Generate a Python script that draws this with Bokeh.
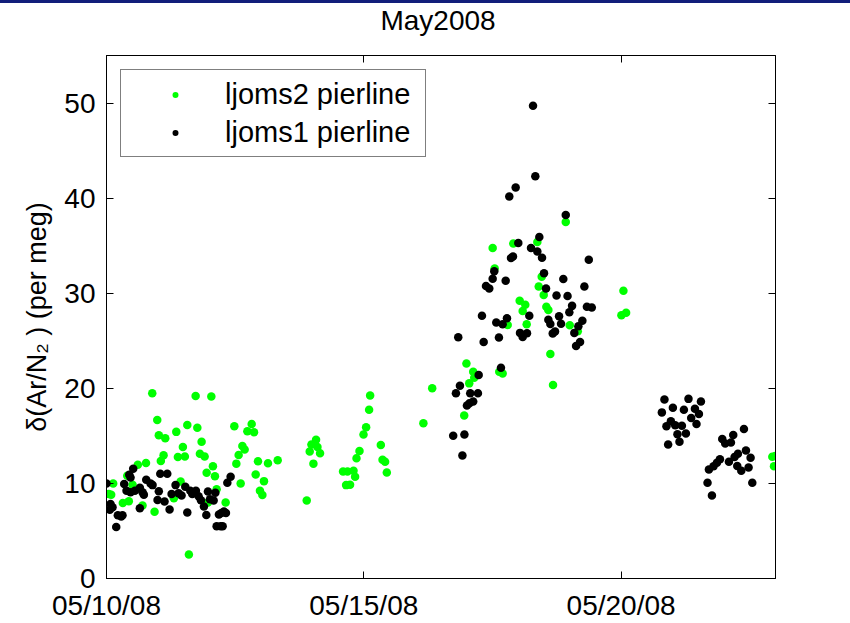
from bokeh.plotting import figure
from bokeh.models import (Range1d, FixedTicker, LinearAxis, Legend, LegendItem,
                          CustomJSTickFormatter, Div, ColumnDataSource)
from bokeh.layouts import column
from bokeh.embed import file_html
from bokeh.resources import INLINE

# Sample times are fractional day-of-month in May 2008; values are delta(Ar/N2) in per meg.
ljoms2_day = [
    10.045, 10.130, 10.091, 10.317, 10.434, 10.403, 10.506, 10.609, 10.700, 10.768,
    10.889, 10.934, 10.986, 11.017, 11.056, 11.109, 11.142, 11.309, 11.356, 11.387,
    11.440, 11.484, 11.523, 11.570, 11.601, 11.732, 11.765, 11.815, 11.848, 11.907,
    11.946, 11.971, 12.037, 12.068, 12.107, 12.140, 12.315, 12.484, 12.523, 12.568,
    12.607, 12.640, 12.685, 12.737, 12.821, 12.866, 12.899, 12.944, 12.982, 13.029,
    13.060, 13.138, 13.327, 13.891, 13.949, 13.982, 14.021, 14.072, 14.099, 14.150,
    14.597, 14.683, 14.800, 14.831, 14.656, 14.733, 14.858, 14.916, 14.994, 15.045,
    15.103, 15.123, 15.331, 15.364, 15.414, 15.447, 16.158, 16.329, 16.951, 16.994,
    17.049, 17.126, 17.146, 17.632, 17.698, 17.504, 17.543, 17.796, 17.905, 18.029,
    18.138, 18.087, 18.165, 18.372, 18.457, 18.399, 18.496, 18.547, 18.586, 18.625,
    18.677, 18.924, 19.002, 19.158, 20.045, 20.006, 20.097, 22.938, 22.995, 22.971,
]
ljoms2_val = [
    8.89, 10.00, 8.80, 7.95, 8.13, 10.80, 9.86, 11.95, 7.68, 12.14,
    19.48, 7.01, 16.67, 15.07, 12.36, 12.95, 14.76, 8.44, 15.42, 12.78,
    10.21, 13.82, 12.84, 16.15, 2.53, 19.20, 15.86, 13.13, 14.38, 12.84,
    11.11, 7.99, 19.14, 11.80, 10.76, 9.38, 7.99, 16.01, 12.08, 12.99,
    10.00, 13.93, 13.57, 15.49, 16.25, 15.39, 10.94, 12.32, 9.24, 8.78,
    10.24, 12.11, 12.43, 8.20, 13.36, 14.09, 12.08, 14.58, 13.82, 13.16,
    11.25, 11.25, 11.32, 10.70, 9.82, 9.86, 12.64, 13.41, 15.14, 15.91,
    17.74, 19.24, 14.03, 12.50, 12.29, 11.15, 16.33, 20.00, 17.14, 22.60,
    20.52, 21.74, 21.11, 21.74, 21.56, 34.76, 32.60, 26.67, 35.24, 29.20,
    28.78, 28.13, 26.74, 35.39, 31.74, 30.70, 29.82, 28.57, 28.23, 23.61,
    20.34, 37.50, 26.64, 26.01, 30.26, 27.68, 27.95, 12.81, 12.89, 11.80,
]

ljoms1_day = [
    10.000, 10.078, 10.117, 10.064, 10.189, 10.220, 10.286, 10.311, 10.442, 10.519,
    10.467, 10.344, 10.389, 10.467, 10.551, 10.648, 10.700, 10.726, 10.772, 10.856,
    10.895, 11.017, 10.992, 11.045, 11.181, 11.128, 11.226, 10.648, 11.265, 11.342,
    11.401, 11.459, 11.531, 11.570, 11.628, 11.667, 11.737, 11.790, 11.835, 11.893,
    11.940, 11.971, 12.010, 12.082, 12.115, 12.185, 12.232, 12.282, 12.321, 12.140,
    12.218, 12.257, 12.348, 12.412,
    16.737, 16.790, 16.835, 16.868, 16.916, 16.955, 17.004, 17.068, 17.126, 17.053,
    17.218, 17.232, 17.296, 17.329, 17.374, 17.438, 17.504, 17.535, 17.574, 17.626,
    17.665, 17.698, 17.757, 17.782, 17.827, 17.899, 17.951, 18.002, 18.035, 18.087,
    18.171, 18.216, 18.249, 18.288, 18.333, 18.372, 18.411, 18.463, 18.502, 18.541,
    18.586, 18.625, 18.671, 18.716, 18.745, 18.794, 18.833, 18.877, 18.924, 18.959,
    18.994, 19.047, 19.091, 19.125, 19.169, 19.202, 19.247, 19.286, 19.335, 19.372,
    19.430, 17.860,
    20.792, 20.842, 20.881, 20.914, 20.967, 21.006, 21.051, 21.095, 21.134, 21.181,
    21.220, 21.259, 21.309, 21.362, 21.434, 21.465, 21.512, 21.551,
    21.679, 21.706, 21.765, 21.796, 21.862, 21.920, 21.965, 22.023, 22.095, 22.134,
    22.179, 22.204, 22.257, 22.270, 22.335, 22.387, 22.426, 22.477, 22.516, 22.549,
]
ljoms1_val = [
    10.00, 7.84, 7.50, 7.22, 5.42, 6.64, 6.53, 6.64, 10.91, 11.53,
    10.63, 9.93, 9.24, 9.06, 9.24, 9.55, 9.06, 8.82, 10.39, 10.00,
    9.82, 9.17, 8.26, 11.01, 11.01, 8.09, 7.26, 7.40, 8.89, 9.82,
    8.96, 8.72, 9.66, 6.95, 9.24, 8.89, 9.24, 8.65, 8.23, 7.57,
    6.67, 9.14, 8.33, 8.20, 9.03, 6.74, 6.88, 7.05, 6.88, 5.49,
    5.49, 5.49, 10.07, 10.70,
    15.02, 19.48, 25.36, 20.28, 12.94, 15.14, 18.20, 19.48, 18.61, 18.44,
    19.48, 21.39, 27.64, 24.86, 30.76, 30.49, 31.53, 32.32, 26.91, 25.34,
    22.16, 26.74, 31.32, 27.36, 40.18, 33.85, 41.11, 35.28, 25.83, 25.39,
    25.80, 27.64, 34.76, 49.72, 42.29, 34.38, 35.91, 33.72, 32.11, 30.49,
    27.22, 26.77, 25.76, 25.97, 29.77, 27.57, 26.80, 31.49, 38.23, 29.71,
    27.99, 28.67, 25.83, 24.45, 26.53, 24.86, 27.11, 30.70, 28.57, 33.51,
    28.51, 33.70,
    17.47, 18.82, 16.01, 14.09, 16.53, 17.95, 16.11, 15.18, 14.38, 16.07,
    17.74, 15.24, 18.89, 16.88, 17.84, 16.25, 17.29, 18.61,
    10.07, 11.46, 8.72, 11.80, 12.16, 12.53, 14.66, 14.20, 12.29, 14.30,
    15.10, 12.78, 11.84, 13.13, 11.32, 15.73, 13.47, 11.67, 12.71, 10.07,
]

date_ticks = [10, 15, 20]
date_labels = ["05/10/08", "05/15/08", "05/20/08"]
value_ticks = [0, 10, 20, 30, 40, 50]

FONT = "Liberation Sans"
GREEN = "#00ff00"
DOT = 8.5
TITLE_H = 36

p = figure(width=850, height=623 - 3 - TITLE_H, output_backend="svg", toolbar_location=None,
           x_range=Range1d(10, 23), y_range=Range1d(0, 55),
           min_border_left=106, min_border_right=75,
           min_border_top=16, min_border_bottom=41,
           background_fill_color="white", border_fill_color="white")

p.grid.visible = False
p.outline_line_color = "black"
p.outline_line_width = 1


def style_axis(ax):
    ax.axis_line_color = "black"
    ax.major_tick_line_color = "black"
    ax.major_tick_in = 7
    ax.major_tick_out = 0
    ax.minor_tick_line_color = None
    ax.major_label_text_font = FONT
    ax.major_label_text_font_size = "28px"
    ax.major_label_text_color = "black"
    ax.major_label_standoff = 11


p.xaxis.ticker = FixedTicker(ticks=date_ticks)
p.xaxis.major_label_overrides = {t: lab for t, lab in zip(date_ticks, date_labels)}
p.yaxis.ticker = FixedTicker(ticks=value_ticks)
p.yaxis.axis_label = "\u03b4(Ar/N\u2082 ) (per meg)"
p.yaxis.axis_label_text_font = FONT
p.yaxis.axis_label_text_font_size = "27px"
p.yaxis.axis_label_text_font_style = "normal"
p.yaxis.axis_label_text_color = "black"
p.yaxis.axis_label_standoff = 9
for ax in p.xaxis + p.yaxis:
    style_axis(ax)

# box ticks on the top and right edges, without labels
blank = CustomJSTickFormatter(code="return ''")
top_axis = LinearAxis(ticker=FixedTicker(ticks=date_ticks), formatter=blank)
right_axis = LinearAxis(ticker=FixedTicker(ticks=value_ticks), formatter=blank)
for ax in (top_axis, right_axis):
    style_axis(ax)
    ax.major_label_standoff = 0
    ax.major_label_text_font_size = "1px"
p.add_layout(top_axis, "above")
p.add_layout(right_axis, "right")

src2 = ColumnDataSource(dict(day=ljoms2_day, val=ljoms2_val))
src1 = ColumnDataSource(dict(day=ljoms1_day, val=ljoms1_val))
p.scatter("day", "val", source=src2, size=DOT, fill_color=GREEN, line_color=None)
p.scatter("day", "val", source=src1, size=DOT, fill_color="black", line_color=None)

# smaller dots shown only in the legend (a single undrawn NaN point each)
nan = float("nan")
key2 = p.scatter(x=[nan], y=[nan], size=6, fill_color=GREEN, line_color=None)
key1 = p.scatter(x=[nan], y=[nan], size=6, fill_color="black", line_color=None)

legend = Legend(items=[LegendItem(label="ljoms2 pierline", renderers=[key2], index=0),
                       LegendItem(label="ljoms1 pierline", renderers=[key1], index=0)],
                location="top_left", margin=14, padding=6, spacing=2,
                label_height=36, glyph_height=15, glyph_width=96, label_standoff=2,
                label_width=194,
                label_text_font=FONT, label_text_font_size="29px",
                label_text_color="black",
                border_line_color="black", border_line_width=1,
                background_fill_color="white", background_fill_alpha=1.0)
p.add_layout(legend)

top_bar = Div(text="", width=850, height=3, margin=0,
              styles={"background-color": "#111e7a"})
title = Div(text=('<div style="width:850px;height:%dpx;line-height:%dpx;text-align:center;'
                  'padding-left:26px;box-sizing:border-box;font-family:\'Liberation Sans\';'
                  'font-size:28px;color:black;white-space:nowrap">May2008</div>') % (TITLE_H, TITLE_H),
            width=850, height=TITLE_H, margin=0)
layout = column(top_bar, title, p, spacing=0)

open("out.html", "w").write(file_html(layout, INLINE))
